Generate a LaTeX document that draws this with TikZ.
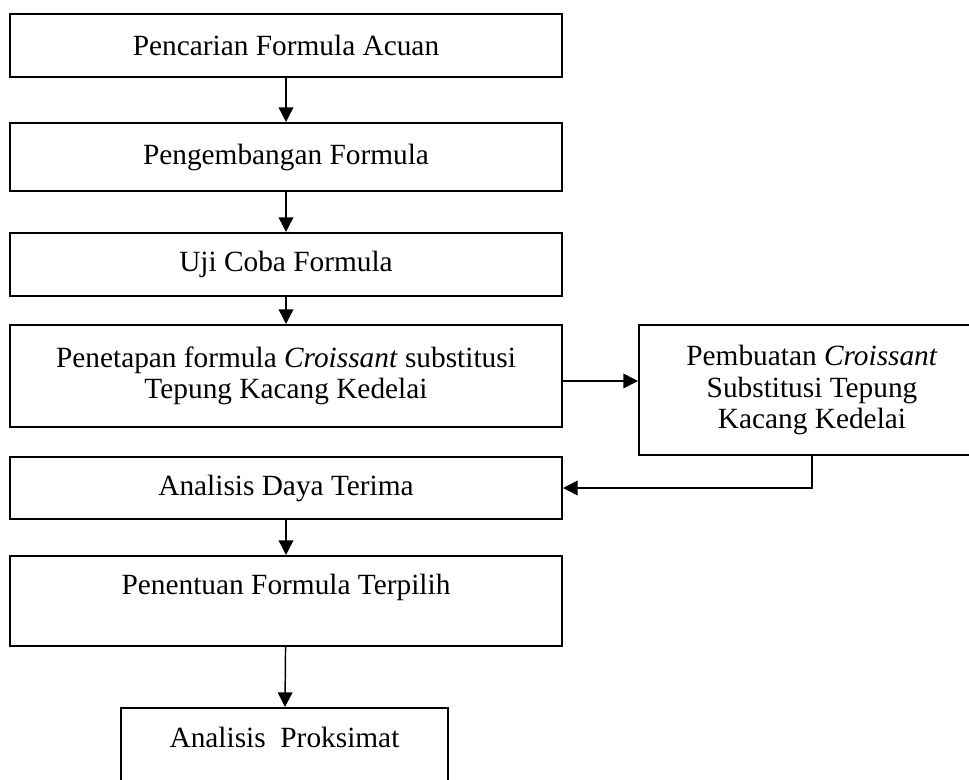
\documentclass[tikz,border=0pt]{standalone}
\usepackage{fontspec}
\setmainfont{Liberation Serif}
\usetikzlibrary{arrows.meta,calc}

\begin{document}
\begin{tikzpicture}[x=0.75pt,y=-0.75pt,
        kotak/.style={draw,line width=1.5pt,inner sep=0pt,align=center,
            font=\fontsize{22}{23.5}\selectfont},
        panah/.style={line width=1.1pt,-{Triangle[length=11pt,width=11pt]}}]
            % batas gambar
            \useasboundingbox (0,0) rectangle (969,780);
            \clip (0,0) rectangle (969,780);

            % titik pusat kotak
            \coordinate (A) at (286,45.5);
            \coordinate (B) at (286,157);
            \coordinate (C) at (286,264.5);
            \coordinate (D) at (286,376);
            \coordinate (E) at (812,390);
            \coordinate (F) at (286,488);
            \coordinate (G) at (286,601);
            \coordinate (H) at (284.5,758);

            % kotak alur
            \node[kotak,minimum width=414pt,minimum height=47.25pt] (acuan) at (A) {Pencarian Formula Acuan};
            \node[kotak,minimum width=414pt,minimum height=51pt] (kembang) at (B) {Pengembangan Formula};
            \node[kotak,minimum width=414pt,minimum height=47.25pt] (uji) at (C) {Uji Coba Formula};
            \node[kotak,minimum width=414pt,minimum height=76.5pt] (tetap) at (D)
                {Penetapan formula \textit{Croissant} substitusi\\Tepung Kacang Kedelai};
            \node[kotak,minimum width=259.5pt,minimum height=97.5pt] (buat) at (E)
                {Pembuatan \textit{Croissant}\\Substitusi Tepung\\Kacang Kedelai};
            \node[kotak,minimum width=414pt,minimum height=46.5pt] (terima) at (F) {Analisis Daya Terima};
            \node[kotak,minimum width=414pt,text height=28.5pt,text depth=39pt] (pilih) at (G)
                {Penentuan Formula Terpilih};
            \node[kotak,minimum width=245.25pt,text height=29.25pt,text depth=45.75pt] (proksimat) at (H)
                {Analisis\ \ Proksimat};

            % panah antar kotak
            \draw[panah] (acuan) -- (kembang);
            \draw[panah] (kembang) -- (uji);
            \draw[panah] (uji) -- (tetap);
            \coordinate (P) at ($(tetap.east)+(0,5)$);
            \draw[panah] (P) -- (P -| buat.west);
            \draw[panah] (buat.south) |- (terima.east);
            \draw[panah] (terima) -- (pilih);
            \draw[panah] (pilih) -- (proksimat);
\end{tikzpicture}
\end{document}
